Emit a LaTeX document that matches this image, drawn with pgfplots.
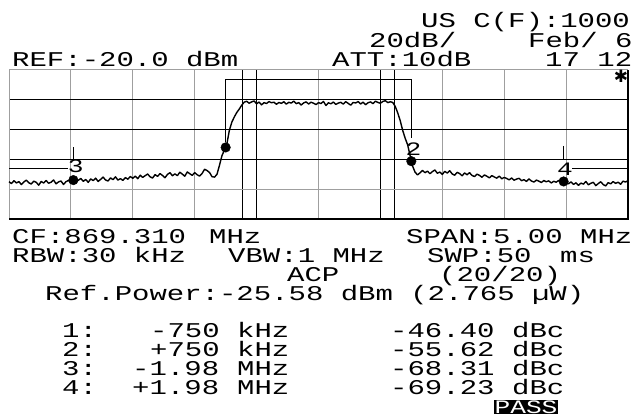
\documentclass[border=0pt]{standalone}
\usepackage{fontspec}
\usepackage{pgfplots}
\pgfplotsset{compat=1.18}
\newfontfamily\lcd[FakeStretch=1.38]{Liberation Mono}
\newfontfamily\sym{DejaVu Sans}
\newcommand\lcdfont{\lcd\fontsize{21bp}{21bp}\selectfont}
\newcommand\lcdsmall{\lcd\fontsize{19bp}{19bp}\selectfont}

\pgfplotstableread{
f dbm
-2.50 -95.0
-2.48 -96.2
-2.46 -94.3
-2.44 -95.8
-2.42 -94.9
-2.40 -96.9
-2.38 -95.1
-2.36 -93.9
-2.34 -95.7
-2.32 -96.5
-2.30 -94.6
-2.28 -95.4
-2.26 -97.3
-2.24 -94.8
-2.22 -95.9
-2.20 -94.2
-2.18 -96.0
-2.16 -95.3
-2.14 -93.8
-2.12 -96.4
-2.10 -95.1
-2.08 -94.5
-2.06 -96.8
-2.04 -95.0
-2.02 -94.1
-2.00 -95.6
-1.98 -93.9
-1.96 -95.2
-1.94 -94.0
-1.92 -92.8
-1.90 -94.7
-1.88 -93.5
-1.86 -95.4
-1.84 -93.1
-1.82 -94.2
-1.80 -92.6
-1.78 -94.8
-1.76 -93.4
-1.74 -91.9
-1.72 -93.8
-1.70 -94.5
-1.68 -92.4
-1.66 -93.6
-1.64 -91.7
-1.62 -93.9
-1.60 -92.9
-1.58 -94.1
-1.56 -92.2
-1.54 -93.3
-1.52 -91.5
-1.50 -92.7
-1.48 -91.2
-1.46 -93.0
-1.44 -90.6
-1.42 -92.1
-1.40 -90.9
-1.38 -89.8
-1.36 -91.7
-1.34 -92.5
-1.32 -90.2
-1.30 -91.4
-1.28 -89.5
-1.26 -90.8
-1.24 -92.3
-1.22 -90.1
-1.20 -88.9
-1.18 -91.0
-1.16 -89.7
-1.14 -90.9
-1.12 -88.6
-1.10 -89.9
-1.08 -91.3
-1.06 -88.4
-1.04 -89.6
-1.02 -90.7
-1.00 -88.9
-0.98 -90.3
-0.96 -91.2
-0.94 -89.4
-0.92 -86.6
-0.90 -87.5
-0.88 -88.8
-0.86 -91.6
-0.84 -91.9
-0.82 -90.0
-0.80 -84.0
-0.78 -77.5
-0.76 -73.8
-0.74 -69.5
-0.72 -60.5
-0.70 -55.0
-0.68 -51.5
-0.66 -48.5
-0.64 -46.2
-0.62 -43.6
-0.60 -41.6
-0.58 -41.0
-0.56 -42.3
-0.54 -41.4
-0.52 -40.8
-0.50 -42.7
-0.48 -41.5
-0.46 -43.4
-0.44 -41.9
-0.42 -42.5
-0.40 -41.2
-0.38 -42.0
-0.36 -41.6
-0.34 -43.0
-0.32 -41.8
-0.30 -42.4
-0.28 -41.3
-0.26 -42.9
-0.24 -41.7
-0.22 -42.2
-0.20 -40.9
-0.18 -42.6
-0.16 -41.9
-0.14 -43.5
-0.12 -42.1
-0.10 -41.4
-0.08 -42.8
-0.06 -41.6
-0.04 -42.3
-0.02 -43.2
0.00 -41.9
0.02 -42.5
0.04 -41.1
0.06 -43.8
0.08 -42.0
0.10 -42.7
0.12 -41.5
0.14 -43.1
0.16 -42.2
0.18 -41.7
0.20 -42.9
0.22 -41.3
0.24 -42.4
0.26 -43.6
0.28 -41.8
0.30 -42.1
0.32 -41.2
0.34 -42.8
0.36 -41.6
0.38 -43.3
0.40 -42.0
0.42 -41.4
0.44 -42.6
0.46 -40.9
0.48 -41.8
0.50 -42.3
0.52 -41.1
0.54 -40.6
0.56 -41.9
0.58 -41.3
0.60 -41.8
0.62 -44.5
0.64 -48.8
0.66 -54.0
0.68 -60.5
0.70 -65.8
0.72 -70.2
0.74 -77.5
0.76 -84.5
0.78 -88.6
0.80 -90.4
0.82 -89.0
0.84 -87.4
0.86 -88.9
0.88 -87.9
0.90 -89.6
0.92 -88.2
0.94 -87.1
0.96 -89.3
0.98 -88.5
1.00 -90.1
1.02 -88.0
1.04 -89.2
1.06 -87.6
1.08 -89.8
1.10 -90.6
1.12 -88.7
1.14 -89.5
1.16 -91.0
1.18 -89.1
1.20 -90.3
1.22 -88.9
1.24 -90.8
1.26 -91.5
1.28 -89.9
1.30 -90.7
1.32 -92.0
1.34 -90.4
1.36 -91.3
1.38 -92.4
1.40 -90.9
1.42 -91.8
1.44 -92.6
1.46 -91.2
1.48 -93.0
1.50 -92.1
1.52 -92.8
1.54 -93.7
1.56 -92.5
1.58 -94.0
1.60 -93.2
1.62 -92.7
1.64 -94.3
1.66 -93.6
1.68 -94.8
1.70 -93.1
1.72 -94.5
1.74 -95.2
1.76 -93.9
1.78 -94.6
1.80 -95.5
1.82 -94.2
1.84 -95.0
1.86 -94.4
1.88 -95.8
1.90 -94.7
1.92 -95.3
1.94 -94.1
1.96 -95.6
1.98 -94.8
2.00 -95.4
2.02 -96.3
2.04 -95.1
2.06 -96.8
2.08 -95.7
2.10 -97.4
2.12 -95.9
2.14 -96.6
2.16 -94.8
2.18 -97.1
2.20 -96.0
2.22 -95.4
2.24 -97.6
2.26 -96.2
2.28 -95.0
2.30 -96.9
2.32 -97.8
2.34 -95.6
2.36 -96.4
2.38 -94.9
2.40 -96.1
2.42 -95.3
2.44 -96.7
2.46 -94.6
2.48 -95.2
2.50 -94.3
}\trace

\begin{document}
\begin{tikzpicture}[x=1bp,y=1bp]
\path[use as bounding box, fill=white] (0,0) rectangle (635,417);
\tikzset{t/.style={anchor=base west, inner sep=0pt, font=\lcdfont}}
% header lines
\node[t] at (421,389) {US C(F):1000};
\node[t] at (369,370) {20dB/};
\node[t] at (528,370) {Feb/ 6};
\node[t] at (12,351) {REF:-20.0 dBm};
\node[t] at (332,351) {ATT:10dB};
\node[t] at (545,351) {17 12};
% settings lines
\node[t] at (12,174) {CF:869.310};
\node[t] at (209,174) {MHz};
\node[t] at (406,174) {SPAN:5.00};
\node[t] at (580,174) {MHz};
\node[t] at (12,155) {RBW:30 kHz};
\node[t] at (228,155) {VBW:1 MHz};
\node[t] at (427,155) {SWP:50};
\node[t] at (560,155) {ms};
\node[t] at (287,136) {ACP};
\node[t] at (439,136) {(20/20)};
\node[t] at (45,117) {Ref.Power:-25.58 dBm (2.765 µW)};
% ACP table
\node[t] at (62,80) {1:};
\node[t] at (150,80) {-750};
\node[t] at (237,80) {kHz};
\node[t] at (390,80) {-46.40};
\node[t] at (512,80) {dBc};
\node[t] at (62,61) {2:};
\node[t] at (150,61) {+750};
\node[t] at (237,61) {kHz};
\node[t] at (390,61) {-55.62};
\node[t] at (512,61) {dBc};
\node[t] at (62,42) {3:};
\node[t] at (132,42) {-1.98};
\node[t] at (237,42) {MHz};
\node[t] at (390,42) {-68.31};
\node[t] at (512,42) {dBc};
\node[t] at (62,23) {4:};
\node[t] at (132,23) {+1.98};
\node[t] at (237,23) {MHz};
\node[t] at (390,23) {-69.23};
\node[t] at (512,23) {dBc};
\node[fill=black, text=white, inner sep=0pt, minimum width=64bp, minimum height=14.5bp, font=\lcdsmall] at (526,10) {PASS};

\begin{axis}[at={(9bp,198bp)}, anchor=south west, scale only axis,
  width=619bp, height=149bp,
  xmin=-2.5, xmax=2.5, ymin=-120, ymax=-20,
  axis line style={draw=none}, ticks=none, clip=false]
  % grid
  \foreach \gx in {-2,-1.5,-1,0,1,1.5,2}{
    \edef\tmp{\noexpand\draw[gray!75, line width=1bp] (axis cs:\gx,-120) -- (axis cs:\gx,-20);}\tmp
  }
  \foreach \gx in {-0.615,-0.5,0.5,0.615}{
    \edef\tmp{\noexpand\draw[black, line width=1.1bp] (axis cs:\gx,-120) -- (axis cs:\gx,-20);}\tmp
  }
  \foreach \gy in {-40,-60,-80}{
    \edef\tmp{\noexpand\draw[black, line width=1.3bp] (axis cs:-2.5,\gy) -- (axis cs:2.5,\gy);}\tmp
  }
  \draw[gray!75, line width=1.1bp] (axis cs:-2.5,-100) -- (axis cs:2.5,-100);
  \draw[gray!75, line width=1bp] (axis cs:-2.5,-120) -- (axis cs:-2.5,-20) -- (axis cs:2.5,-20);
  \draw[black, line width=1.4bp] (axis cs:-2.5,-120) -- (axis cs:2.5,-120) -- (axis cs:2.5,-20);
  % ACP box and marker lines
  \addplot[black, line width=0.9bp] coordinates {(-0.75,-68) (-0.75,-26.2) (0.75,-26.2) (0.75,-65.6)};
  \addplot[black, line width=0.9bp] coordinates {(-2.5,-85.8) (-2.02,-85.8)};
  \addplot[black, line width=0.9bp] coordinates {(-1.98,-71.7) (-1.98,-80.4)};
  \addplot[black, line width=0.9bp] coordinates {(2.05,-85.8) (2.5,-85.8)};
  \addplot[black, line width=0.9bp] coordinates {(1.98,-71.0) (1.98,-80.4)};
  % trace
  \addplot[black, line width=1.4bp, line join=round] table[x=f, y=dbm] {\trace};
  % markers
  \addplot[only marks, mark=*, mark size=4.8bp, black] coordinates {(-0.75,-71.98) (0.75,-81.20) (-1.98,-93.89) (1.98,-94.81)};
  \node[font=\lcdsmall, inner sep=0pt] at (axis cs:-1.96,-84.8) {3};
  \node[font=\lcdsmall, inner sep=0pt] at (axis cs:0.767,-73.4) {2};
  \node[font=\lcdsmall, inner sep=0pt] at (axis cs:1.99,-86.8) {4};
  \node[font=\sym\fontsize{17bp}{17bp}\selectfont\bfseries, inner sep=0pt] at (axis cs:2.444,-24.5) {✱};
\end{axis}
\end{tikzpicture}
\end{document}
